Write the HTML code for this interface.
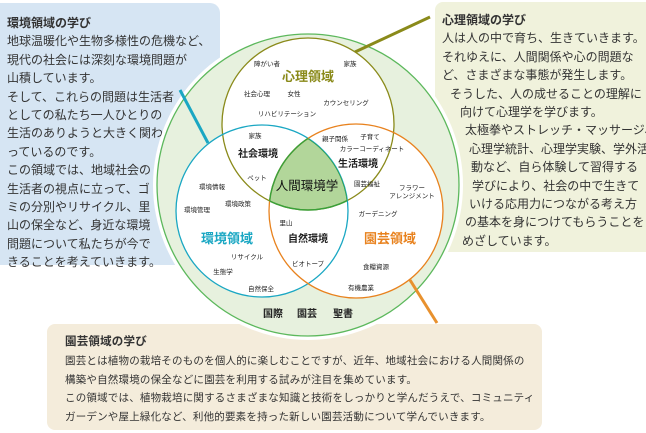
<!DOCTYPE html>
<html><head><meta charset="utf-8"><style>
html,body{margin:0;padding:0;background:#fff;}
body{width:646px;height:433px;position:relative;overflow:hidden;font-family:"Liberation Sans","Noto Sans CJK JP",sans-serif;color:#333;}
.box{position:absolute;font-size:12px;line-height:18.4px;white-space:nowrap;}
.b1{left:0;top:3px;width:220px;height:262px;background:#d6e5f3;border-radius:0 10px 10px 0;}
.b2{left:435px;top:2px;width:211px;height:250px;background:#f0f2dc;border-radius:8px 0 0 8px;}
.b3{left:47px;top:324px;width:495px;height:106px;background:#f4ecdb;border-radius:8px;}
.t{font-weight:bold;}
svg{position:absolute;left:0;top:0;}
</style></head><body>
<div class="box b1" style="padding:11px 0 0 7px;box-sizing:border-box;">
<div class="t">環境領域の学び</div>
地球温暖化や生物多様性の危機など、<br>現代の社会には深刻な環境問題が<br>山積しています。<br>そして、これらの問題は生活者<br>としての私たち一人ひとりの<br>生活のありようと大きく関わ<br>っているのです。<br>この領域では、地域社会の<br>生活者の視点に立って、ゴ<br>ミの分別やリサイクル、里<br>山の保全など、身近な環境<br>問題について私たちが今で<br>きることを考えていきます。
</div>
<div class="box b2" style="padding:9px 0 0 7px;box-sizing:border-box;">
<div class="t">心理領域の学び</div>
人は人の中で育ち、生きていきます。<br>それゆえに、人間関係や心の問題な<br>ど、さまざまな事態が発生します。<br>
<span style="padding-left:8px">そうした、人の成せることの理解に</span><br>
<span style="padding-left:18px">向けて心理学を学びます。</span><br>
<span style="padding-left:23px">太極拳やストレッチ・マッサージ、</span><br>
<span style="padding-left:27px">心理学統計、心理学実験、学外活</span><br>
<span style="padding-left:29px">動など、自ら体験して習得する</span><br>
<span style="padding-left:30px">学びにより、社会の中で生きて</span><br>
<span style="padding-left:27px">いける応用力につながる考え方</span><br>
<span style="padding-left:23px">の基本を身につけてもらうことを</span><br>
<span style="padding-left:20px">めざしています。</span>
</div>
<div class="box b3" style="padding:9px 0 0 18px;box-sizing:border-box;line-height:18.8px;font-size:10.5px;letter-spacing:0.2px;">
<div class="t" style="font-size:11.5px">園芸領域の学び</div>
園芸とは植物の栽培そのものを個人的に楽しむことですが、近年、地域社会における人間関係の<br>構築や自然環境の保全などに園芸を利用する試みが注目を集めています。<br>この領域では、植物栽培に関するさまざまな知識と技術をしっかりと学んだうえで、コミュニティ<br>ガーデンや屋上緑化など、利他的要素を持った新しい園芸活動について学んでいきます。
</div>
<svg width="646" height="433" viewBox="0 0 646 433" font-family="Liberation Sans, Noto Sans CJK JP, sans-serif">
<defs>
<clipPath id="cp"><circle cx="308" cy="124" r="86"/></clipPath>
<clipPath id="ce"><circle cx="262" cy="211" r="86"/></clipPath>
<clipPath id="cg"><circle cx="356" cy="211" r="87"/></clipPath>
</defs>
<circle cx="308" cy="185" r="155" fill="#fff"/>
<circle cx="308" cy="185" r="151" fill="#e7f1de" stroke="#5cb85c" stroke-width="1.3"/>
<line x1="180" y1="90" x2="208" y2="143" stroke="#1aa7c3" stroke-width="3"/>
<line x1="355" y1="52" x2="430" y2="17" stroke="#8a8a1a" stroke-width="3"/>
<line x1="410" y1="280" x2="437" y2="323" stroke="#e8912e" stroke-width="3"/>
<circle cx="308" cy="124" r="86" fill="#fff"/>
<circle cx="262" cy="211" r="86" fill="#fff"/>
<circle cx="356" cy="211" r="87" fill="#fff"/>
<g clip-path="url(#cg)"><g clip-path="url(#cp)"><circle cx="262" cy="211" r="86" fill="#b2d69a" clip-path="url(#ce)"/></g></g>
<circle cx="308" cy="124" r="86" fill="none" stroke="#8a8a1a" stroke-width="1.3"/>
<circle cx="262" cy="211" r="86" fill="none" stroke="#1aa7c3" stroke-width="1.3"/>
<circle cx="356" cy="211" r="87" fill="none" stroke="#e8821e" stroke-width="1.3"/>
<g clip-path="url(#cg)"><g clip-path="url(#cp)"><circle cx="262" cy="211" r="86" fill="none" stroke="#3aa03a" stroke-width="1.5" clip-path="url(#ce)"/></g></g>
<g clip-path="url(#ce)"><g clip-path="url(#cp)"><circle cx="356" cy="211" r="87" fill="none" stroke="#3aa03a" stroke-width="1.5"/></g></g>
<g clip-path="url(#cg)"><g clip-path="url(#ce)"><circle cx="308" cy="124" r="86" fill="none" stroke="#3aa03a" stroke-width="1.5"/></g></g>
<g text-anchor="middle" font-size="6.5" fill="#222">
<text x="267" y="66">障がい者</text><text x="350" y="66">家族</text>
<text x="257" y="96">社会心理</text><text x="294" y="96">女性</text>
<text x="346" y="105">カウンセリング</text><text x="287" y="116">リハビリテーション</text>
<text x="255" y="138">家族</text><text x="335" y="141">親子関係</text><text x="370" y="139">子育て</text>
<text x="372" y="151">カラーコーディネート</text>
<text x="257" y="180">ペット</text><text x="367" y="186">園芸福祉</text>
<text x="412" y="190">フラワー</text><text x="412" y="198">アレンジメント</text>
<text x="212" y="189">環境情報</text><text x="238" y="206">環境政策</text><text x="197" y="212">環境管理</text>
<text x="378" y="216">ガーデニング</text><text x="286" y="225">里山</text>
<text x="247" y="259">リサイクル</text><text x="308" y="266">ビオトープ</text><text x="376" y="269">食糧資源</text>
<text x="223" y="274">生態学</text><text x="261" y="291">自然保全</text><text x="361" y="290">有機農業</text>
</g>
<g text-anchor="middle" font-size="13" font-weight="bold">
<text x="308" y="81" fill="#8a8a1a">心理領域</text>
<text x="227" y="243" fill="#1aa7c3">環境領域</text>
<text x="390" y="243" fill="#e8821e">園芸領域</text>
</g>
<g text-anchor="middle" font-size="10" font-weight="bold" fill="#222">
<text x="258" y="157">社会環境</text><text x="358" y="167">生活環境</text>
<text x="308" y="242">自然環境</text>
<text x="273" y="317">国際</text><text x="307" y="317">園芸</text><text x="343" y="317">聖書</text>
</g>
<text x="307" y="190" text-anchor="middle" font-size="12.5" fill="#111">人間環境学</text>
</svg>
</body></html>
